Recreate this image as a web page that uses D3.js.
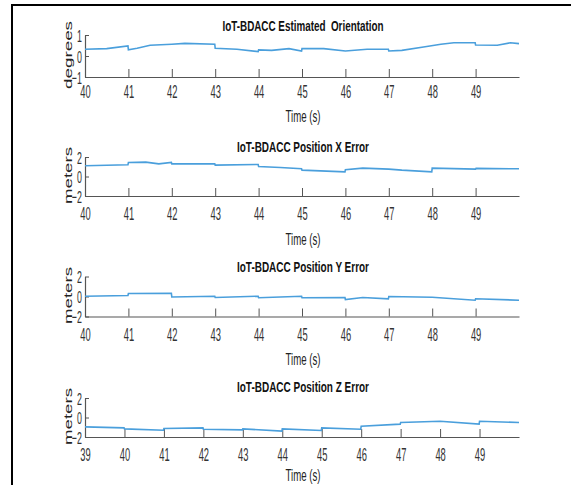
<!DOCTYPE html>
<html><head><meta charset="utf-8">
<script src="https://cdn.jsdelivr.net/npm/d3@7"></script>
<style>body{margin:0;background:#fff}svg{display:block}</style>
</head><body>
<script>
// ---- data ----
const titles = ["IoT-BDACC Estimated  Orientation","IoT-BDACC Position X Error","IoT-BDACC Position Y Error","IoT-BDACC Position Z Error"];
const yLabels = ["degrees","meters","meters","meters"];
const xLabel = "Time (s)";
const xDomains = [[40,50],[40,50],[40,50],[39,50]];
const yDomains = [[-1,1],[-2,2],[-2,2],[-2,2]];
const xTicks = [[40,41,42,43,44,45,46,47,48,49],[40,41,42,43,44,45,46,47,48,49],[40,41,42,43,44,45,46,47,48,49],[39,40,41,42,43,44,45,46,47,48,49]];
const yTicks = [[-1,0,1],[-2,0,2],[-2,0,2],[-2,0,2]];

const orientT = [40,40.5,40.99,41,41.2,41.5,42,42.3,42.99,43,43.5,43.99,44,44.3,44.7,44.99,45,45.5,46,46.5,46.99,47,47.3,47.8,48.2,48.5,48.99,49,49.5,49.8,50];
const orientV = [0.32,0.35,0.48,0.29,0.37,0.51,0.56,0.6,0.56,0.37,0.32,0.21,0.29,0.27,0.35,0.24,0.35,0.35,0.24,0.32,0.32,0.24,0.27,0.43,0.56,0.63,0.63,0.52,0.51,0.63,0.59];

const xErrT = [40,40.99,41,41.4,41.7,41.99,42,42.99,43,43.99,44,44.5,44.99,45,45.99,46,46.4,47,47.3,47.99,48,49,49.01,50];
const xErrV = [1.1,1.2,1.44,1.47,1.3,1.44,1.3,1.3,1.17,1.23,1.03,0.93,0.79,0.65,0.48,0.69,0.86,0.76,0.65,0.48,0.86,0.76,0.83,0.79];

const yErrT = [40,40.99,41,41.99,42,42.99,43,43.99,44,44.5,44.99,45,45.99,46,46.4,46.99,47,48,48.99,49,50];
const yErrV = [0.03,0.1,0.3,0.33,-0.05,0.03,-0.1,0.03,-0.13,-0.05,0.03,-0.13,-0.1,-0.3,-0.1,-0.23,0.0,-0.07,-0.37,-0.23,-0.37];

const zErrT = [39,39.99,40,40.99,41,41.99,42,42.99,43,43.99,44,44.99,45,45.99,46,46.99,47,48,48.99,49,50];
const zErrV = [-0.96,-1.06,-1.17,-1.3,-1.13,-1.06,-1.2,-1.27,-1.17,-1.4,-1.17,-1.33,-1.06,-1.2,-0.89,-0.68,-0.51,-0.38,-0.68,-0.38,-0.51];

const seriesT = [orientT,xErrT,yErrT,zErrT];
const seriesV = [orientV,xErrV,yErrV,zErrV];

// ---- layout ----
const W = 571, H = 485;
const xL = 85, xR = 519;
const layout = [
  {top:35,  bot:77,  title:31,  tick:98,  xlab:122},
  {top:157, bot:196, title:152, tick:220, xlab:245},
  {top:276.5, bot:316.5, title:272, tick:341, xlab:365},
  {top:398, bot:437, title:392, tick:461, xlab:481}
];
const titleLen = [161,132,132,132];
const yLabLen = [68,57,57,57];
const FONT = "Liberation Sans, Arial, sans-serif";
const AX = "#555", LINE = "#4a9fdc";

const svg = d3.select("body").append("svg").attr("width",W).attr("height",H);
svg.append("rect").attr("width",W).attr("height",H).attr("fill","#fff");
svg.append("path").attr("d",`M12,${H} L12,5 L${W},5`).attr("fill","none").attr("stroke","#000").attr("stroke-width",2);

layout.forEach((L,i)=>{
  const x = d3.scaleLinear().domain(xDomains[i]).range([xL,xR]);
  const y = d3.scaleLinear().domain(yDomains[i]).range([L.bot,L.top]);
  const g = svg.append("g");

  // x axis
  const gx = g.append("g").attr("transform",`translate(0,${L.bot})`)
    .call(d3.axisBottom(x).tickValues(xTicks[i]).tickFormat(d3.format("d")).tickSizeInner(-8).tickSizeOuter(0));
  gx.select(".domain").attr("stroke",AX).attr("stroke-width",1.2);
  gx.selectAll(".tick line").attr("stroke",AX).attr("stroke-width",1);
  gx.selectAll(".tick text").attr("y",L.tick-L.bot).attr("dy",0)
    .attr("font-family",FONT).attr("font-size",18).attr("fill","#333")
    .attr("transform","scale(0.52,1)");

  // y axis
  const gy = g.append("g").attr("transform",`translate(${xL},0)`)
    .call(d3.axisLeft(y).tickValues(yTicks[i]).tickFormat(d3.format("d")).tickSizeInner(-4).tickSizeOuter(0));
  gy.select(".domain").attr("stroke",AX).attr("stroke-width",1.2);
  gy.selectAll(".tick line").attr("stroke",AX).attr("stroke-width",1);
  gy.selectAll(".tick text").attr("x",-6).attr("dy","0.36em")
    .attr("font-family",FONT).attr("font-size",17).attr("fill","#333")
    .attr("transform","scale(0.52,1)");

  // line
  const pts = seriesT[i].map((t,k)=>[t,seriesV[i][k]]);
  g.append("path").datum(pts)
    .attr("d",d3.line().x(d=>x(d[0])).y(d=>y(d[1])))
    .attr("fill","none").attr("stroke",LINE).attr("stroke-width",1.6);

  // title
  g.append("text").attr("x",(xL+xR)/2+1).attr("y",L.title)
    .attr("text-anchor","middle").attr("font-family",FONT).attr("font-weight","bold")
    .attr("font-size",15).attr("fill","#111").style("white-space","pre")
    .attr("textLength",titleLen[i]).attr("lengthAdjust","spacingAndGlyphs")
    .text(titles[i]);

  // x label
  g.append("text").attr("x",303).attr("y",L.xlab)
    .attr("text-anchor","middle").attr("font-family",FONT)
    .attr("font-size",17).attr("fill","#222")
    .attr("textLength",35).attr("lengthAdjust","spacingAndGlyphs")
    .text(xLabel);

  // y label
  const cy = (L.top+L.bot)/2 - 1;
  g.append("text")
    .attr("transform",`translate(72,${cy}) rotate(-90) scale(1,0.58)`)
    .attr("text-anchor","middle").attr("font-family",FONT)
    .attr("font-size",19).attr("fill","#222")
    .attr("textLength",yLabLen[i]).attr("lengthAdjust","spacingAndGlyphs")
    .text(yLabels[i]);
});
</script>
</body></html>
